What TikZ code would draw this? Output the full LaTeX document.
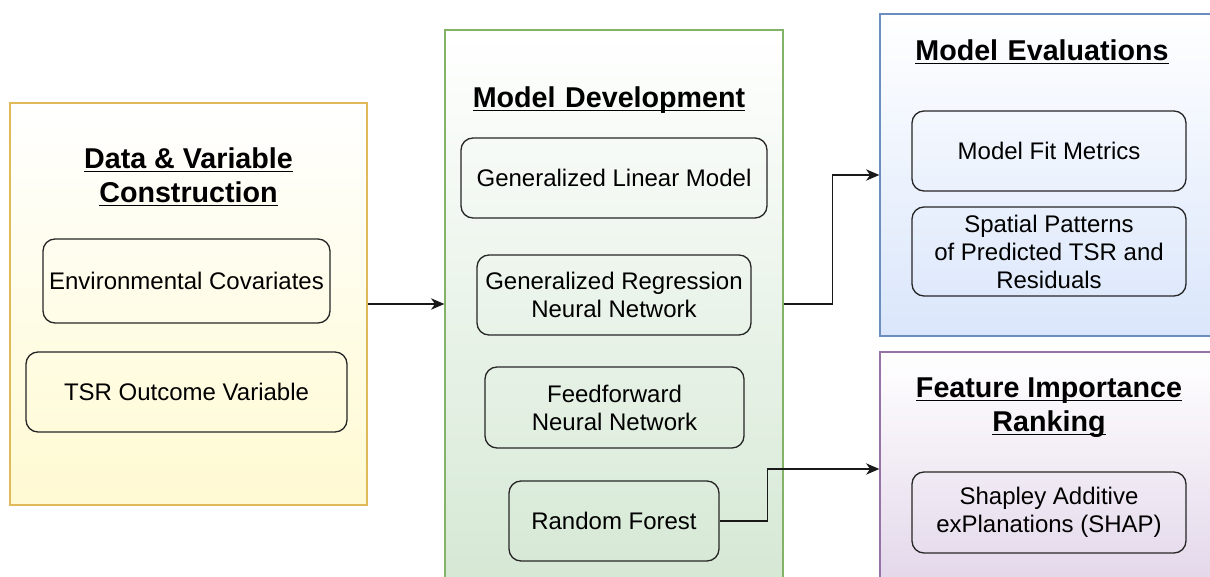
\documentclass[tikz,border=0pt]{standalone}
\usepackage{fontspec}
\setmainfont{Liberation Sans}
\usepackage{tikz}
\usetikzlibrary{
    positioning,
    calc,
    arrows.meta
}
\usepackage{xcolor}

% panel colours
\definecolor{dataline}{HTML}{E0BA5A}
\definecolor{datafill}{HTML}{FFFAD2}
\definecolor{devline}{HTML}{82B366}
\definecolor{devfill}{HTML}{D5E8D4}
\definecolor{evalline}{HTML}{6C8EBF}
\definecolor{evalfill}{HTML}{DAE6FB}
\definecolor{featline}{HTML}{9673A6}
\definecolor{featfill}{HTML}{E3D7EA}

% one pixel of the layout
\newcommand{\pxu}{0.75pt}
% thick underline for the panel titles
\newcommand{\headline}[1]{\setbox0=\hbox{#1}\rlap{\rule[-2.6pt]{\wd0}{1.1pt}}\box0}

\begin{document}
\begin{tikzpicture}[x=0.75pt, y=-0.75pt]
  \useasboundingbox (0,0) rectangle (1210,577);

  \tikzset{
    panel/.style={draw, line width=0.9pt, inner sep=0pt},
    title/.style={font=\fontsize{21.5}{25.5}\selectfont\bfseries, align=center, inner sep=0pt},
    step box/.style={draw=black!85, line width=1pt, rounded corners=9pt, align=center,
                     inner sep=0pt, font=\fontsize{18}{21}\selectfont},
    flow/.style={-{Stealth[length=10pt, width=8.5pt, inset=3pt]}, line width=1.1pt, black!90}
  }

  % Panels (gradient from white at the top)
  \node[panel, draw=dataline, top color=white, bottom color=datafill,
        minimum width=357*\pxu, minimum height=402*\pxu] (data) at (188.5,304) {};
  \node[panel, draw=devline, top color=white, bottom color=devfill,
        minimum width=338*\pxu, minimum height=560*\pxu] (dev) at (614,310) {};
  \node[panel, draw=evalline, top color=white, bottom color=evalfill,
        minimum width=342*\pxu, minimum height=322*\pxu] (eval) at (1051,175) {};
  \node[panel, draw=featline, top color=white, bottom color=featfill,
        minimum width=342*\pxu, minimum height=234*\pxu] (feat) at (1051,469) {};

  % Panel titles
  \node[title] (data_title) at (188.5,177) {\headline{Data \& Variable}\\\headline{Construction}};
  \node[title, anchor=base] (dev_title) at (609,108) {\headline{Model\,\,Development}};
  \node[title, anchor=base] (eval_title) at (1042,61) {\headline{Model\,\,Evaluations}};
  \node[title] (feat_title) at (1049,408) {\headline{Feature Importance}\\\headline{Ranking}};

  % Data & variables
  \node[step box, minimum width=287*\pxu, minimum height=84*\pxu] (env) at (186.5,281) {Environmental Covariates};
  \node[step box, minimum width=321*\pxu, minimum height=80*\pxu] (tsr) at (186.5,392) {TSR Outcome Variable};

  % Models
  \node[step box, minimum width=306*\pxu, minimum height=80*\pxu] (glm) at (614,178) {Generalized Linear Model};
  \node[step box, minimum width=274*\pxu, minimum height=80*\pxu] (grnn) at (614,295) {Generalized Regression\\Neural Network};
  \node[step box, minimum width=259*\pxu, minimum height=81*\pxu] (ffnn) at (614.5,407.5) {Feedforward\\Neural Network};
  \node[step box, minimum width=210*\pxu, minimum height=80*\pxu] (rf) at (614,521) {Random Forest};

  % Evaluations
  \node[step box, minimum width=274*\pxu, minimum height=80*\pxu] (fit) at (1049,151) {Model Fit Metrics};
  \node[step box, minimum width=274*\pxu, minimum height=89*\pxu] (spatial) at (1049,251.5) {Spatial Patterns\\of Predicted TSR and\\Residuals};

  % Feature importance
  \node[step box, minimum width=274*\pxu, minimum height=81*\pxu] (shap) at (1049,512.5) {Shapley Additive\\exPlanations (SHAP)};

  % Connectors between the panels
  \draw[flow] (data.east) -- (data.east -| dev.west);
  \draw[flow] (data.east -| dev.east) -- ++(49,0) |- (eval.west);
  \draw[flow] (rf.east) -- ++(48,0) |- (feat.west);
\end{tikzpicture}
\end{document}
